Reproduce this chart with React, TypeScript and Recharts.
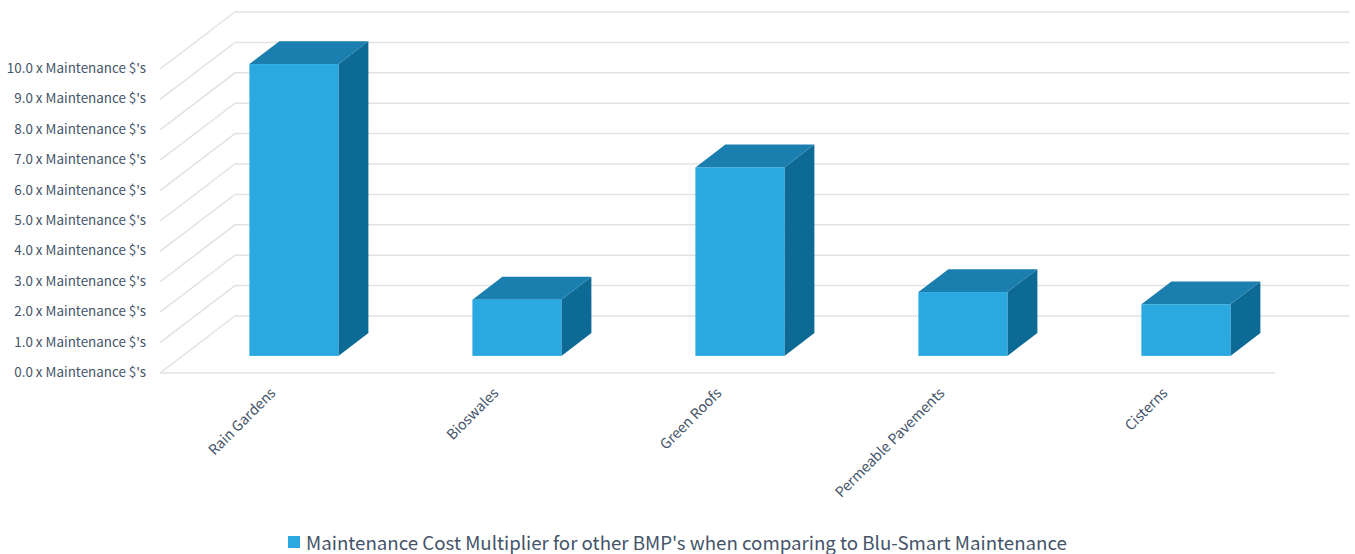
import React from 'react';
import { BarChart, Bar, XAxis, YAxis, CartesianGrid, Legend, ReferenceLine } from 'recharts';

// BMP types and how many times Blu-Smart maintenance each one costs
const categories = ['Rain Gardens', 'Bioswales', 'Green Roofs', 'Permeable Pavements', 'Cisterns'];
const multipliers = [9.6, 1.85, 6.2, 2.1, 1.7];
const yTicks = [0, 1, 2, 3, 4, 5, 6, 7, 8, 9, 10];
const seriesName = "Maintenance Cost Multiplier for other BMP's when comparing to Blu-Smart Maintenance";

const data = categories.map((name, i) => ({ name, value: multipliers[i] }));

// oblique offset of the back wall relative to the front plane
const DEPTH_X = 75;
const DEPTH_Y = -57;
// bars sit in the middle of the floor depth
const BAR_FRONT = 0.3;
const BAR_DEPTH = 0.4;

const FONT = '"Noto Sans CJK KR", "Noto Sans", sans-serif';
const TEXT = '#44546A';
const GRID = '#e2e2e2';
const FRONT = '#2AA8E0';
const TOP = '#1A7EAF';
const SIDE = '#0D6A95';

const Bar3D = (props: any) => {
  const { x, y, width, height } = props;
  if (width == null || height == null) return null;
  const fx = x + DEPTH_X * BAR_FRONT;
  const fy = y + DEPTH_Y * BAR_FRONT;
  const dx = DEPTH_X * BAR_DEPTH;
  const dy = DEPTH_Y * BAR_DEPTH;
  return (
    <g>
      <polygon
        points={`${fx + width},${fy} ${fx + width + dx},${fy + dy} ${fx + width + dx},${fy + height + dy} ${fx + width},${fy + height}`}
        fill={SIDE}
      />
      <polygon
        points={`${fx},${fy} ${fx + dx},${fy + dy} ${fx + width + dx},${fy + dy} ${fx + width},${fy}`}
        fill={TOP}
      />
      <rect x={fx} y={fy} width={width} height={height} fill={FRONT} />
    </g>
  );
};

// each gridline runs up the left wall, then along the back wall
const WallLine = (props: any) => {
  const { x1, y1, x2 } = props;
  return (
    <polyline
      key={props.key}
      points={`${x1},${y1} ${x1 + DEPTH_X},${y1 + DEPTH_Y} ${x2 + DEPTH_X},${y1 + DEPTH_Y}`}
      fill="none"
      stroke={GRID}
      strokeWidth={1.5}
    />
  );
};

const YTick = (props: any) => {
  const { x, y, payload } = props;
  return (
    <text x={x - 6} y={y} dy={4} textAnchor="end" fill={TEXT} fontSize={13.4} fontFamily={FONT}>
      {`${Number(payload.value).toFixed(1)} x Maintenance $'s`}
    </text>
  );
};

const XTick = (props: any) => {
  const { x, y, payload } = props;
  return (
    <g transform={`translate(${x + 5},${y + 13})`}>
      <text x={0} y={0} textAnchor="end" transform="rotate(-45)" fill={TEXT} fontSize={14.2} fontFamily={FONT}>
        {payload.value}
      </text>
    </g>
  );
};

const LegendContent = () => (
  <div
    style={{
      display: 'flex',
      justifyContent: 'center',
      alignItems: 'center',
      fontFamily: FONT,
      fontSize: 18.7,
      lineHeight: '20px',
      color: TEXT,
    }}
  >
    <span style={{ display: 'inline-block', width: 12, height: 12, background: FRONT, marginRight: 6 }} />
    <span>{seriesName}</span>
  </div>
);

export default function App() {
  return (
    <div style={{ position: 'absolute', left: 0, top: 0, background: '#fff' }}>
      <BarChart
        width={1355}
        height={554}
        data={data}
        margin={{ top: 69, right: 80, left: 0, bottom: 0 }}
        barCategoryGap="30%"
      >
        <CartesianGrid vertical={false} horizontal={WallLine} />
        <ReferenceLine y={0} stroke={GRID} strokeWidth={1.5} />
        <XAxis dataKey="name" axisLine={false} tickLine={false} interval={0} height={159} tick={<XTick />} />
        <YAxis
          domain={[0, 10]}
          ticks={yTicks}
          axisLine={false}
          tickLine={false}
          width={160}
          tick={<YTick />}
        />
        <Legend
          verticalAlign="bottom"
          height={22}
          wrapperStyle={{ left: 0, width: 1355 }}
          content={<LegendContent />}
        />
        <Bar dataKey="value" name={seriesName} shape={<Bar3D />} isAnimationActive={false} />
      </BarChart>
    </div>
  );
}
